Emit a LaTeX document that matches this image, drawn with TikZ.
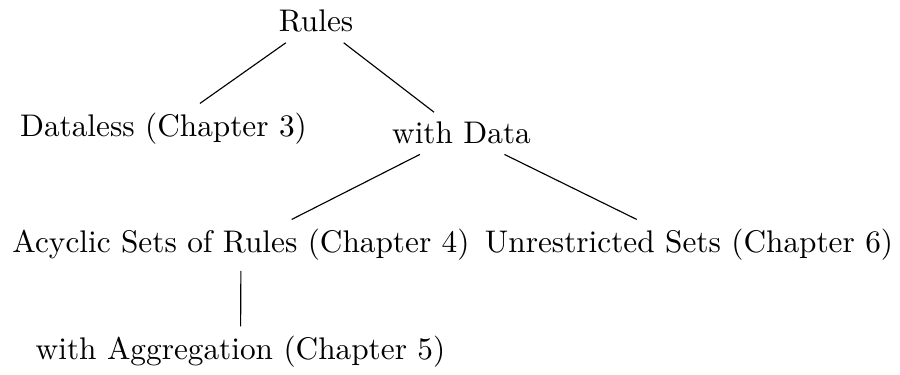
\documentclass[tikz,border=0pt]{standalone}
\begin{document}
\begin{tikzpicture}[x=0.35pt,y=-0.35pt,
  lbl/.style={anchor=base,font=\fontsize{10.95}{13.6}\selectfont},
  edge/.style={draw=black,line width=0.4pt}]
\useasboundingbox (0,0) rectangle (900,375);
\node[lbl] (rules) at (316,32) {Rules};
\node[lbl] (dataless) at (163.5,137) {Dataless (Chapter 3)};
\node[lbl] (withdata) at (461.5,144) {with Data};
\node[lbl] (acyclic) at (241,253) {Acyclic Sets of Rules (Chapter 4)};
\node[lbl] (unres) at (689,253) {Unrestricted Sets (Chapter 6)};
\node[lbl] (aggr) at (240.5,360) {with Aggregation (Chapter 5)};
\draw[edge] (rules) -- (dataless);
\draw[edge] (rules) -- (withdata);
\draw[edge] (withdata) -- (acyclic);
\draw[edge] (withdata) -- (unres);
\draw[edge] (acyclic) -- (aggr);
\end{tikzpicture}
\end{document}
